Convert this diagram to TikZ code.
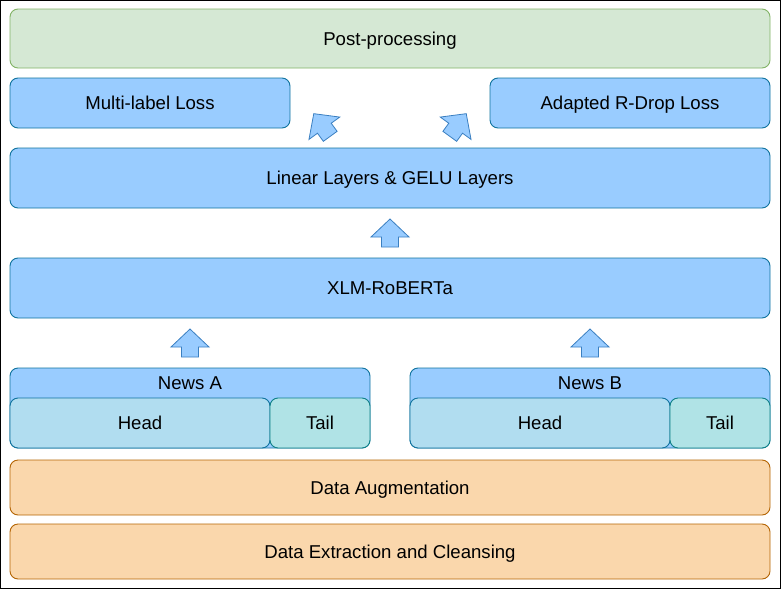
\documentclass[tikz,border=0pt]{standalone}
\usepackage{fontspec}
\setmainfont{Liberation Sans}
\usepackage{xcolor}
\usepackage{tikz}
\usetikzlibrary{positioning,calc}
\definecolor{BlueFill}{HTML}{99CCFF}
\definecolor{BlueLine}{HTML}{10739E}
\definecolor{HeadFill}{HTML}{B1DDF0}
\definecolor{TailFill}{HTML}{B0E3E6}
\definecolor{TailLine}{HTML}{0E8088}
\definecolor{GreenFill}{HTML}{D5E8D4}
\definecolor{GreenLine}{HTML}{82B366}
\definecolor{OrangeFill}{HTML}{FAD7AC}
\definecolor{OrangeLine}{HTML}{B46504}
\definecolor{ArrowLine}{HTML}{3A7FC1}

\begin{document}
\begin{tikzpicture}[
    x=1pt, y=1pt,
    font=\fontsize{18.6}{21}\selectfont,
    % box styles
    base/.style={rounded corners=8pt, line width=0.9pt, inner sep=0pt, outer sep=0pt, text height=13.4pt, text depth=0pt},
    bluebox/.style={base, draw=BlueLine, fill=BlueFill},
    greenbox/.style={base, draw=GreenLine, fill=GreenFill},
    orangebox/.style={base, draw=OrangeLine, fill=OrangeFill},
    headbox/.style={base, draw=BlueLine, fill=HeadFill, minimum width=260pt, minimum height=50pt},
    tailbox/.style={base, draw=TailLine, fill=TailFill, minimum width=100pt, minimum height=50pt},
    wide/.style={minimum width=760pt},
    % block arrow
    blockarrow/.pic={
        \path[draw=ArrowLine, fill=BlueFill, line width=0.8pt, line join=miter]
            (-8.5,-14) -- (-8.5,-4) -- (-19,-4) -- (0,14) -- (19,-4) -- (8.5,-4) -- (8.5,-14) -- cycle;
    }
]
\useasboundingbox (0,0) rectangle (781,-589);
\draw[black, line width=1pt] (0.5,-0.5) rectangle (780.5,-588.5);

% top rows
\node[greenbox, wide, minimum height=59pt] (post) at (390,-38.5) {Post-processing};
\node[bluebox, minimum width=280pt, minimum height=50pt, below=10pt of post.south west, anchor=north west] (mlloss) {Multi-label Loss};
\node[bluebox, minimum width=280pt, minimum height=50pt, below=10pt of post.south east, anchor=north east] (rdrop) {Adapted R-Drop Loss};
\node[bluebox, wide, minimum height=60pt, below=20pt of mlloss.south west, anchor=north west] (linear) {Linear Layers \& GELU Layers};
\node[bluebox, wide, minimum height=60pt, below=50pt of linear] (xlm) {XLM-RoBERTa};

% news inputs
\node[bluebox, minimum width=360pt, minimum height=80pt, below=50pt of xlm.south west, anchor=north west] (newsA) {};
\node[base] (titleA) at ([yshift=-15pt]newsA.north) {News A};
\node[headbox, anchor=south west] (headA) at (newsA.south west) {Head};
\node[tailbox, anchor=south east] (tailA) at (newsA.south east) {Tail};

\node[bluebox, minimum width=360pt, minimum height=80pt, below=50pt of xlm.south east, anchor=north east] (newsB) {};
\node[base] (titleB) at ([yshift=-15pt]newsB.north) {News B};
\node[headbox, anchor=south west] (headB) at (newsB.south west) {Head};
\node[tailbox, anchor=south east] (tailB) at (newsB.south east) {Tail};

% data rows
\node[orangebox, wide, minimum height=55pt, below=12pt of newsA.south west, anchor=north west] (augment) {Data Augmentation};
\node[orangebox, wide, minimum height=55pt, below=9pt of augment] (extract) {Data Extraction and Cleansing};

% arrows
\pic at ($(linear.south)!0.5!(xlm.north)$) {blockarrow};
\pic at ($(newsA.north)!0.5!(newsA.north |- xlm.south)$) {blockarrow};
\pic at ($(newsB.north)!0.5!(newsB.north |- xlm.south)$) {blockarrow};
\pic[rotate=36] at ($(linear.north)+(-68pt,23pt)$) {blockarrow};
\pic[rotate=-36] at ($(linear.north)+(68pt,23pt)$) {blockarrow};

\end{tikzpicture}
\end{document}
